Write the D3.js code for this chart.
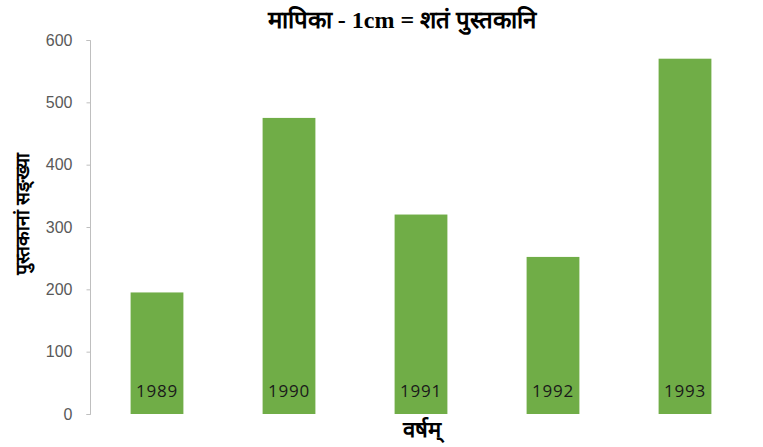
<!DOCTYPE html>
<html><head><meta charset="utf-8">
<script src="https://cdn.jsdelivr.net/npm/d3@7"></script>
<style>body{margin:0;background:#fff}</style>
</head><body>
<svg id="c" width="763" height="447"></svg>
<script>
const years = ["1989","1990","1991","1992","1993"];
const books = [195, 475, 320, 252, 570];
const yTicks = [0,100,200,300,400,500,600];
const titleText = "मापिका - 1cm =  शतं पुस्तकानि";
const yLabel = "पुस्तकानां सङ्ख्या";
const xLabel = "वर्षम्";

const svg = d3.select("#c");
const x = d3.scaleBand().domain(years).range([91, 751]).paddingInner(0.6).paddingOuter(0.3);
const y = d3.scaleLinear().domain([0, 600]).range([414, 40]);

const yAxis = svg.append("g").attr("transform","translate(90.5,0)")
  .call(d3.axisLeft(y).tickValues(yTicks).tickSize(4).tickPadding(14));
yAxis.select(".domain").attr("stroke","#bfbfbf").attr("d","M-4,"+(y(600)+0.5)+"H0V"+(y(0)+0.5)+"H-4");
yAxis.selectAll(".tick line").attr("stroke","#bfbfbf");
yAxis.selectAll(".tick text").attr("fill","#595959").style("font-family","Liberation Sans, Arial, sans-serif").style("font-size","16px");

svg.selectAll("rect.bar").data(years).enter().append("rect")
  .attr("class","bar")
  .attr("x", d => x(d)).attr("width", x.bandwidth())
  .attr("y", (d,i) => y(books[i])).attr("height", (d,i) => y(0) - y(books[i]))
  .attr("fill","#70ad47");

svg.selectAll("text.yr").data(years).enter().append("text")
  .attr("class","yr")
  .attr("x", d => x(d) + x.bandwidth()/2).attr("y", 397)
  .attr("text-anchor","middle")
  .style("font-family","Open Sans, sans-serif").style("font-size","17px").style("letter-spacing","0.8px").attr("fill","#1a1a1a")
  .text(d => d);

svg.append("text").attr("x", 402).attr("y", 28).attr("text-anchor","middle")
  .style("font-family","Liberation Serif, serif").style("font-weight","bold").style("font-size","24px")
  .attr("fill","#000").text(titleText);

svg.append("text").attr("transform","translate(29,214) rotate(-90)").attr("text-anchor","middle")
  .style("font-weight","bold").style("font-size","19px").attr("fill","#000").text(yLabel);

svg.append("text").attr("x", 422).attr("y", 437).attr("text-anchor","middle")
  .style("font-weight","bold").style("font-size","22px").attr("fill","#000").text(xLabel);
</script>
</body></html>
